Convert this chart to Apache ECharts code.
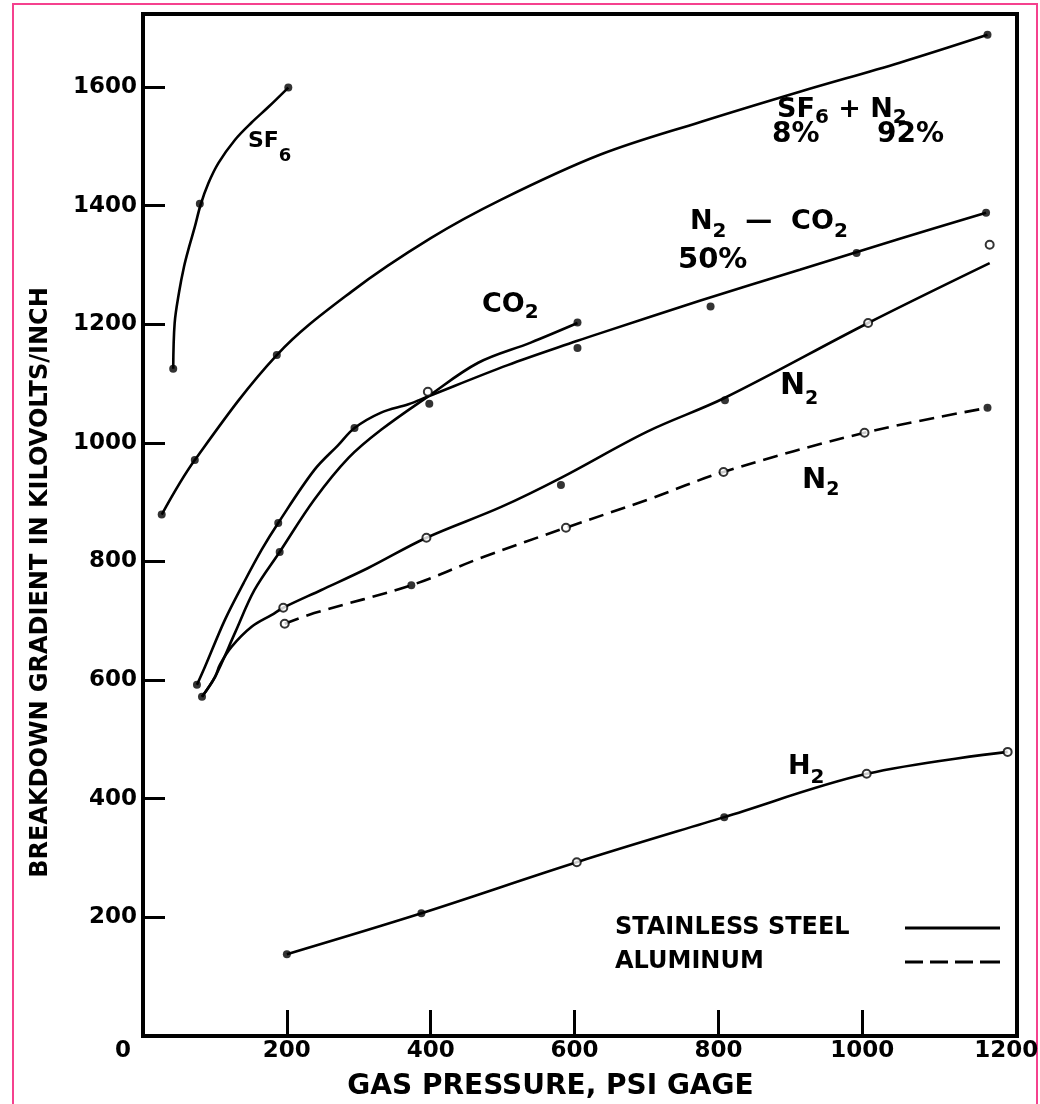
<!DOCTYPE html>
<html>
<head>
<meta charset="utf-8">
<script src="https://cdn.jsdelivr.net/npm/echarts@6/dist/echarts.min.js"></script>
<style>
html,body{margin:0;padding:0;background:#fff;}
#chart{width:1040px;height:1104px;}
</style>
</head>
<body>
<div id="chart"></div>
<script>
// ---------- data ----------
const X_TITLE = 'GAS PRESSURE, PSI GAGE';
const Y_TITLE = 'BREAKDOWN GRADIENT IN KILOVOLTS/INCH';
const LEGEND_NAMES = ['STAINLESS STEEL', 'ALUMINUM'];

// SF6 (stainless steel)
const SF6_CURVE = [[42,1125],[44,1202],[50,1253],[57,1297],[64,1330],[72,1364],[80,1401],[91,1438],[105,1472],[128,1511],[151,1540],[175,1567],[202,1599]];
const SF6_FILLED = [[42,1125],[79,1403],[202,1599]];

// SF6 8% + N2 92% (stainless steel)
const SF6N2_CURVE = [[26,879],[72,971],[186,1148],[290,1255],[400,1345],[498,1410],[636,1486],[775,1541],[913,1592],[1052,1641],[1174,1688]];
const SF6N2_FILLED = [[26,879],[72,971],[186,1148],[1174,1688]];

// N2 - CO2 50% (stainless steel)
const N2CO2_CURVE = [[75,592],[86,622],[114,702],[140,764],[165,820],[188,865],[238,954],[272,997],[294,1025],[331,1051],[369,1065],[396,1078],[507,1131],[604,1172],[636,1185],[775,1240],[913,1292],[1052,1344],[1172,1388]];
const N2CO2_FILLED = [[75,592],[188,865],[294,1025],[398,1066],[604,1160],[789,1230],[992,1320],[1172,1388]];

// CO2 (stainless steel)
const CO2_CURVE = [[82,572],[100,605],[128,680],[155,752],[190,816],[238,904],[286,975],[331,1022],[396,1078],[466,1135],[539,1169],[604,1202]];
const CO2_FILLED = [[82,572],[190,816],[604,1203]];
const CO2_OPEN = [[396,1086]];

// N2 (stainless steel)
const N2S_CURVE = [[82,572],[100,605],[107,626],[123,656],[151,690],[179,710],[195,722],[248,752],[313,789],[394,840],[498,892],[581,941],[701,1019],[809,1076],[1008,1202],[1177,1303]];
const N2S_FILLED = [[581,929],[809,1072]];
const N2S_OPEN = [[195,722],[394,840],[1008,1202],[1177,1334]];

// N2 (aluminum)
const N2A_CURVE = [[197,695],[238,713],[373,760],[474,808],[588,857],[701,904],[807,951],[1003,1017],[1174,1059]];
const N2A_FILLED = [[373,760],[1174,1059]];
const N2A_OPEN = [[197,695],[588,857],[807,951],[1003,1017]];

// H2 (stainless steel)
const H2_CURVE = [[200,138],[387,207],[603,293],[808,369],[1006,442],[1202,479]];
const H2_FILLED = [[200,138],[387,207],[808,369]];
const H2_OPEN = [[603,293],[1006,442],[1202,479]];

// ---------- chart ----------
const FONT = 'DejaVu Sans';
const BLACK = '#000';

function curve(name, data, dashed) {
  return {
    type: 'line', name: name, data: data, smooth: 0.35, showSymbol: false, silent: true,
    color: BLACK,
    lineStyle: { color: BLACK, width: 2.6, type: dashed ? [15, 8] : 'solid' },
    z: 3
  };
}
function marks(name, data, open) {
  return {
    type: 'scatter', name: name, data: data, silent: true,
    symbol: open ? 'emptyCircle' : 'circle',
    symbolSize: 8,
    itemStyle: { color: BLACK, borderColor: BLACK, borderWidth: open ? 2 : 0 },
    z: 4
  };
}
function chem(x, capTop, text, M, S, d) {
  const L = d + (M + S) / 2;
  const base = { fontFamily: FONT, fontWeight: 'bold', fill: BLACK, lineHeight: L };
  return {
    type: 'text', x: x, y: capTop - 0.07 * M, silent: true, z: 10,
    style: {
      text: text, fill: BLACK, align: 'left', verticalAlign: 'top',
      rich: {
        m: Object.assign({}, base, { fontSize: M, verticalAlign: 'top' }),
        s: Object.assign({}, base, { fontSize: S, verticalAlign: 'bottom' })
      }
    }
  };
}
function plain(x, capTop, text, size) {
  return {
    type: 'text', x: x, y: capTop - 0.07 * size, silent: true, z: 10,
    style: { text: text, fill: BLACK, align: 'left', verticalAlign: 'top',
      font: 'bold ' + size + 'px "' + FONT + '"' }
  };
}

const series = [
  curve('SF6', SF6_CURVE), marks('SF6', SF6_FILLED),
  curve('SF6 + N2', SF6N2_CURVE), marks('SF6 + N2', SF6N2_FILLED),
  curve('N2 - CO2', N2CO2_CURVE), marks('N2 - CO2', N2CO2_FILLED),
  curve('CO2', CO2_CURVE), marks('CO2', CO2_FILLED), marks('CO2 ', CO2_OPEN, true),
  curve('N2 steel', N2S_CURVE), marks('N2 steel', N2S_FILLED), marks('N2 steel ', N2S_OPEN, true),
  curve('N2 aluminum', N2A_CURVE, true), marks('N2 aluminum', N2A_FILLED), marks('N2 aluminum ', N2A_OPEN, true),
  curve('H2', H2_CURVE), marks('H2', H2_FILLED), marks('H2 ', H2_OPEN, true),
  { type: 'line', name: LEGEND_NAMES[0], data: [], color: BLACK, lineStyle: { color: BLACK, width: 3 } },
  { type: 'line', name: LEGEND_NAMES[1], data: [], color: BLACK, lineStyle: { color: BLACK, width: 3, type: [14, 8] } }
];

const axisFont = { color: BLACK, fontFamily: FONT, fontWeight: 'bold', fontSize: 23 };

const option = {
  animation: false,
  backgroundColor: '#fff',
  grid: { left: 143, right: 23, top: 14, bottom: 68, show: true, borderColor: BLACK, borderWidth: 4,
          outerBoundsMode: 'none' },
  xAxis: {
    type: 'value', min: 0, max: 1215, interval: 200,
    name: X_TITLE, nameLocation: 'middle', nameGap: 37,
    nameTextStyle: { color: BLACK, fontFamily: FONT, fontWeight: 'bold', fontSize: 28, padding: [0, 59, 0, 0] },
    axisLine: { show: true, lineStyle: { color: BLACK, width: 4 } },
    axisTick: { show: true, inside: true, length: 26, lineStyle: { color: BLACK, width: 3 },
                customValues: [200, 400, 600, 800, 1000] },
    splitLine: { show: false },
    axisLabel: Object.assign({}, axisFont, {
      margin: 4, showMaxLabel: false,
      formatter: function (v) { return v === 0 ? '{z|0}' : String(v); },
      rich: { z: Object.assign({}, axisFont, { padding: [0, 40, 0, 0] }) }
    })
  },
  yAxis: {
    type: 'value', min: 0, max: 1723, interval: 200,
    name: Y_TITLE, nameLocation: 'middle', nameGap: 90,
    nameTextStyle: { color: BLACK, fontFamily: FONT, fontWeight: 'bold', fontSize: 24, padding: [0, 115, 0, 0] },
    axisLine: { show: true, lineStyle: { color: BLACK, width: 4 } },
    axisTick: { show: true, inside: true, length: 22, lineStyle: { color: BLACK, width: 3 } },
    splitLine: { show: false },
    axisLabel: Object.assign({}, axisFont, {
      margin: 6, showMinLabel: false, showMaxLabel: false,
      formatter: function (v) { return String(v); }
    })
  },
  legend: {
    orient: 'vertical', left: 610, top: 911, align: 'right', selectedMode: false,
    itemWidth: 95, itemHeight: 4, itemGap: 10,
    data: [
      { name: LEGEND_NAMES[0], icon: 'path://M0,0H95V3H0Z' },
      { name: LEGEND_NAMES[1], icon: 'path://M0,0H18V3H0ZM25,0H43V3H25ZM50,0H68V3H50ZM75,0H95V3H75Z' }
    ],
    formatter: function (name) { return '{t|' + name + '}'; },
    textStyle: {
      color: BLACK, fontFamily: FONT, fontWeight: 'bold', fontSize: 24,
      rich: { t: { width: 285, align: 'left', color: BLACK, fontFamily: FONT, fontWeight: 'bold', fontSize: 24 } }
    }
  },
  graphic: [
    { type: 'rect', silent: true, z: -1, shape: { x: 13, y: 4, width: 1024, height: 1130 },
      style: { fill: 'none', stroke: '#f5418e', lineWidth: 2 } },
    chem(248, 132, '{m|SF}{s|6}', 22, 18, 14.5),
    chem(777, 98, '{m|SF}{s|6}{m| + N}{s|2}', 27, 20, 8),
    plain(772, 123, '8%', 28),
    plain(877, 123, '92%', 28),
    chem(690, 210, '{m|N}{s|2}{m|  \u2014  CO}{s|2}', 27, 20, 10),
    plain(678, 248, '50%', 29),
    chem(482, 293, '{m|CO}{s|2}', 27, 20, 8.5),
    chem(780, 373, '{m|N}{s|2}', 30, 19, 13.5),
    chem(802, 468, '{m|N}{s|2}', 29, 19, 9.5),
    chem(788, 755, '{m|H}{s|2}', 27, 20, 11.5)
  ],
  series: series
};

const chart = echarts.init(document.getElementById('chart'), null, { renderer: 'canvas' });
chart.setOption(option);
</script>
</body>
</html>
